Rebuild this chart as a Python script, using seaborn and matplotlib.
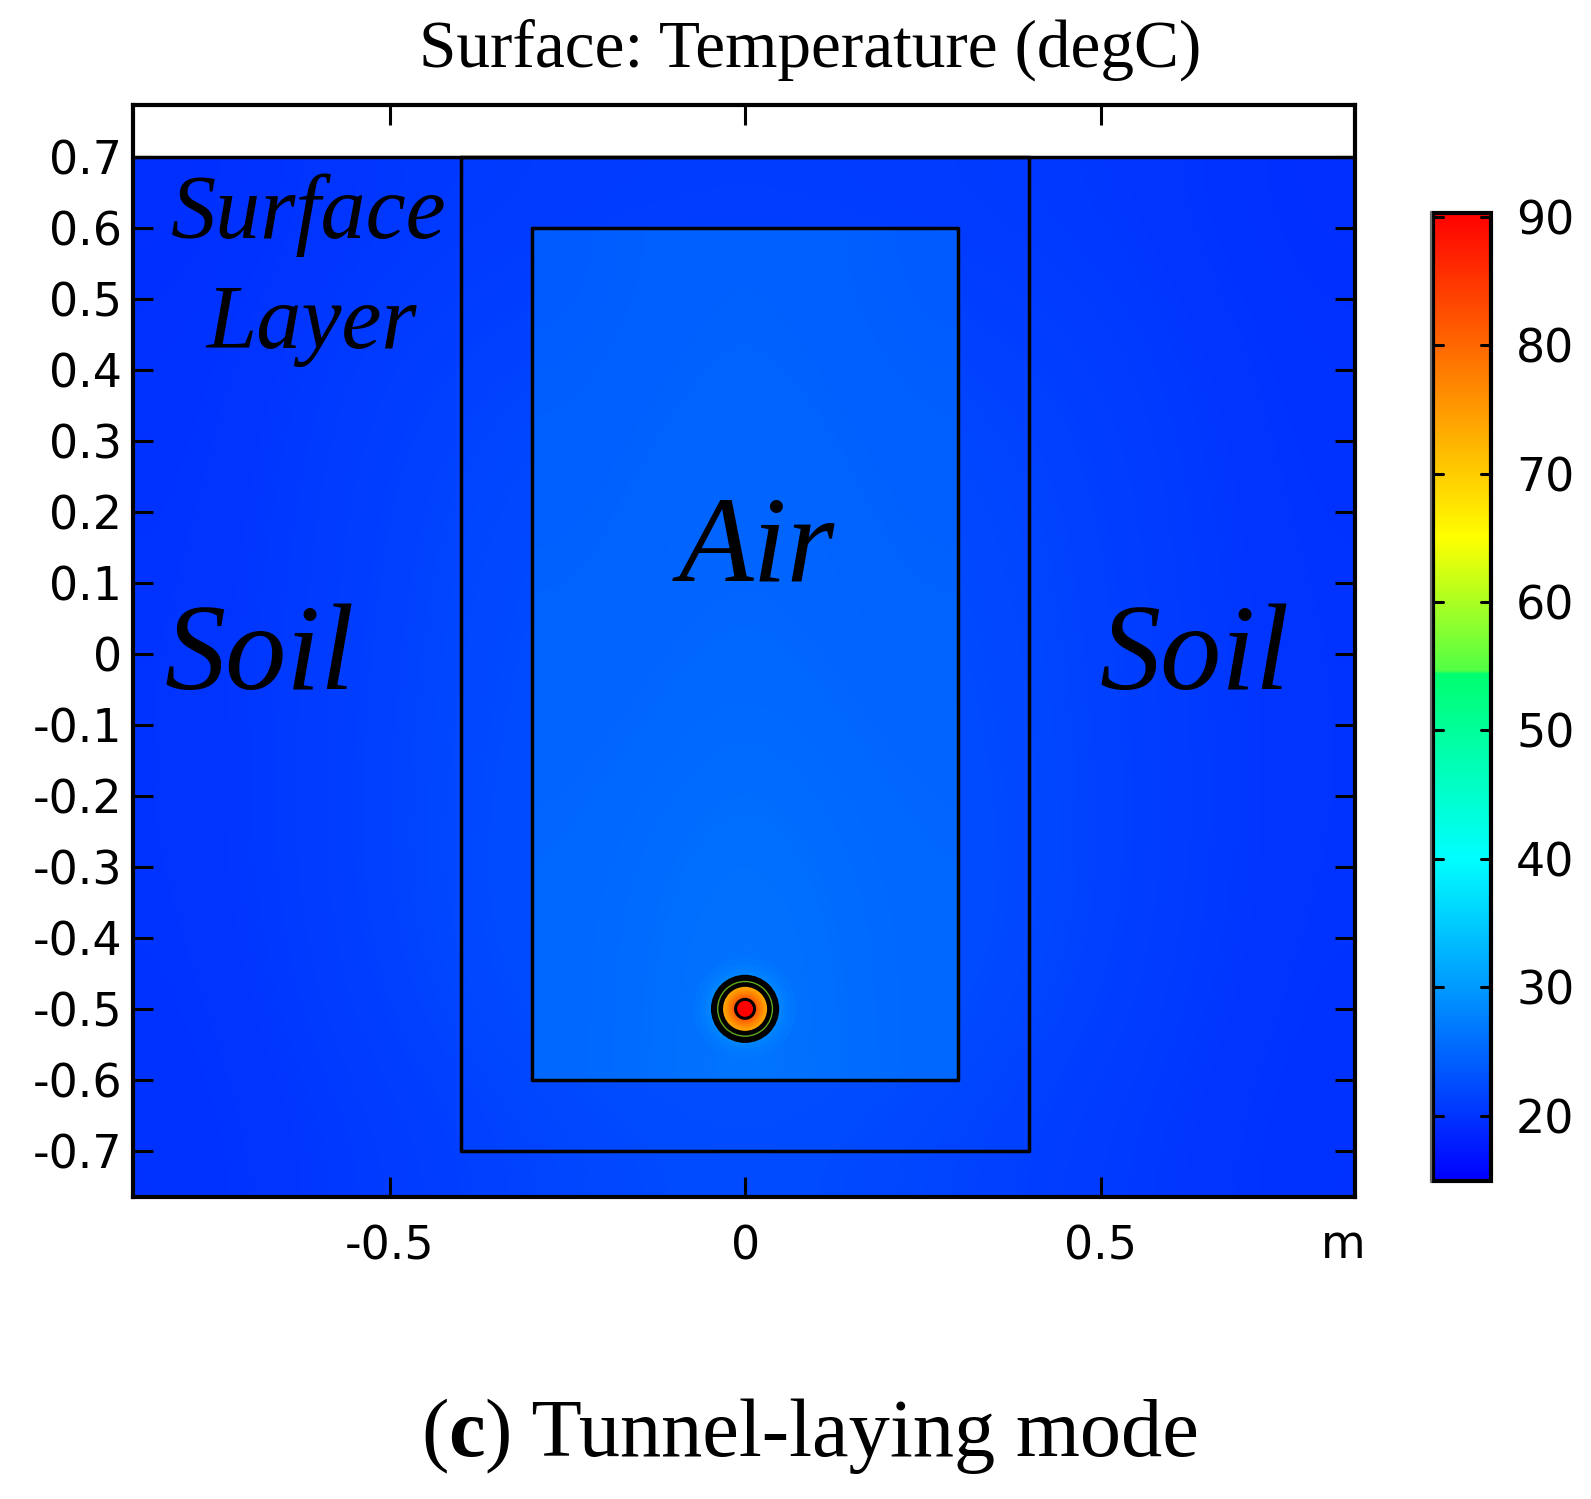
import numpy as np
import pandas as pd
import matplotlib
matplotlib.use('Agg')
import matplotlib.pyplot as plt
from matplotlib.colors import LinearSegmentedColormap, Normalize
from matplotlib.lines import Line2D
from matplotlib.patches import Circle
import seaborn as sns

# soil and surface layer temperature (degC), rows top to bottom
field_x = [-0.86, -0.645, -0.43, -0.215, 0.0, 0.215, 0.43, 0.645, 0.86]
field_y = [0.7, 0.49, 0.28, 0.07, -0.14, -0.35, -0.56, -0.77]
field_temp = [
    [19.6, 20.2, 20.6, 20.8, 20.9, 20.8, 20.6, 20.2, 19.6],
    [19.8, 20.6, 21.3, 21.8, 22.0, 21.8, 21.3, 20.6, 19.8],
    [19.9, 20.8, 21.8, 22.3, 22.4, 22.3, 21.8, 20.8, 19.9],
    [20.0, 20.9, 22.0, 22.5, 22.6, 22.5, 22.0, 20.9, 20.0],
    [20.0, 21.0, 22.1, 22.7, 22.8, 22.7, 22.1, 21.0, 20.0],
    [20.0, 21.0, 22.2, 22.9, 23.0, 22.9, 22.2, 21.0, 20.0],
    [19.9, 20.8, 22.0, 22.9, 23.2, 22.9, 22.0, 20.8, 19.9],
    [19.8, 20.4, 21.2, 22.0, 22.4, 22.0, 21.2, 20.4, 19.8],
]

# air inside the tunnel (degC), rows top to bottom, columns left to right
air_temp = [
    [24.0, 24.3, 24.5, 24.3, 24.0],
    [24.3, 24.6, 24.8, 24.6, 24.3],
    [24.5, 24.8, 25.0, 24.8, 24.5],
    [24.8, 25.1, 25.4, 25.1, 24.8],
    [25.1, 25.6, 26.2, 25.6, 25.1],
    [25.1, 25.8, 26.6, 25.8, 25.1],
]

# colour scale stops (degC, colour)
scale_temp = [14.9, 40.0, 54.4, 54.6, 65.0, 90.3]
scale_color = ['#0000ff', '#00ffff', '#00ff6e', '#50ff46', '#ffff00', '#ff0000']

# domain outlines (half width, bottom, top)
outer_box = [0.4, -0.7, 0.7]
inner_box = [0.3, -0.6, 0.6]

# cable, outer to inner
cable_center = (0.0, -0.5)
halo_radius = [0.072, 0.063, 0.056, 0.051]
halo_temp = [26.6, 27.0, 27.5, 28.2]
ring_radius = [0.031, 0.028, 0.025, 0.022, 0.019, 0.0165]
ring_temp = [74.0, 75.5, 77.0, 78.5, 80.0, 81.0]

x_ticks = [-0.5, 0, 0.5]
x_labels = ['-0.5', '0', '0.5']
y_ticks = [0.7, 0.6, 0.5, 0.4, 0.3, 0.2, 0.1, 0, -0.1, -0.2, -0.3, -0.4, -0.5, -0.6, -0.7]
y_labels = ['0.7', '0.6', '0.5', '0.4', '0.3', '0.2', '0.1', '0', '-0.1', '-0.2', '-0.3', '-0.4', '-0.5', '-0.6', '-0.7']
bar_ticks = [20, 30, 40, 50, 60, 70, 80, 90]

W, H = 1591, 1499
sns.set_theme(style='white')
plt.rcParams['font.family'] = ['DejaVu Sans']
serif = 'Liberation Serif'

vmin, vmax = scale_temp[0], scale_temp[-1]
stops = [(t - vmin) / (vmax - vmin) for t in scale_temp]
cmap = LinearSegmentedColormap.from_list('comsol', list(zip(stops, scale_color)), N=1024)
norm = Normalize(vmin, vmax)


def box(left, top, right, bottom):
    # pixel box to figure fractions
    return [left / W, 1 - bottom / H, (right - left) / W, (bottom - top) / H]


fig = plt.figure(figsize=(W / 100, H / 100), dpi=100)
ax_heat = fig.add_axes(box(133, 157, 1355, 1197))
ax = fig.add_axes(box(133, 105, 1355, 1197))
cax = fig.add_axes(box(1433, 213, 1491, 1181))

table = pd.DataFrame(field_temp, index=field_y, columns=field_x)
sns.heatmap(table, ax=ax_heat, cmap=cmap, vmin=vmin, vmax=vmax, cbar_ax=cax,
            xticklabels=False, yticklabels=False)
# smooth the table between its cells, has to sit above the heatmap cells
ax_heat.imshow(table.values, cmap=cmap, norm=norm, interpolation='bicubic', aspect='auto',
               extent=(0, table.shape[1], table.shape[0], 0), zorder=3)
ax_heat.axis('off')

ax.set_facecolor('none')
half, low, high = inner_box
ax.imshow(air_temp, cmap=cmap, norm=norm, interpolation='bicubic', aspect='auto',
          extent=(-half, half, low, high), zorder=1)
ax.set_xlim(-0.861, 0.858)
ax.set_ylim(-0.765, 0.773)

# geometry lines
for half, low, high in [outer_box, inner_box]:
    frame = pd.DataFrame({'x': [-half, half, half, -half, -half], 'y': [high, high, low, low, high]})
    sns.lineplot(data=frame, x='x', y='y', ax=ax, color='black', lw=2.5, sort=False, estimator=None)
top_line = pd.DataFrame({'x': [-0.861, 0.858], 'y': [0.7, 0.7]})
sns.lineplot(data=top_line, x='x', y='y', ax=ax, color='black', lw=2.5, sort=False, estimator=None)

# cable rings
for r, t in zip(halo_radius, halo_temp):
    ax.add_patch(Circle(cable_center, r, fc=cmap(norm(t)), ec='none', zorder=1.5))
ax.add_patch(Circle(cable_center, 0.048, fc='black', ec='none', zorder=4))
ax.add_patch(Circle(cable_center, 0.0385, fc='none', ec='#5fa81c', lw=1.0, zorder=5))
for r, t in zip(ring_radius, ring_temp):
    ax.add_patch(Circle(cable_center, r, fc=cmap(norm(t)), ec='none', zorder=6))
ax.add_patch(Circle(cable_center, 0.0155, fc='black', ec='none', zorder=7))
ax.add_patch(Circle(cable_center, 0.0112, fc='#ff0000', ec='none', zorder=8))

ax.set_xlabel('')
ax.set_ylabel('')
ax.set_xticks(x_ticks, x_labels)
ax.set_yticks(y_ticks, y_labels)
ax.tick_params(axis='both', which='major', direction='in', length=14.5, width=2.2, labelsize=33,
               top=True, right=True, bottom=True, left=True, color='black', labelcolor='black')
ax.tick_params(axis='x', pad=20)
ax.tick_params(axis='y', pad=8)
for spine in ax.spines.values():
    spine.set_linewidth(3.0)
    spine.set_color('black')

# colour bar
cbar = ax_heat.collections[0].colorbar
cbar.set_ticks(bar_ticks)
cax.tick_params(axis='y', which='major', direction='in', length=0, labelsize=33, pad=18, right=True, colors='black')
for t in bar_ticks:
    cax.plot([0, 0.17], [t, t], transform=cax.get_yaxis_transform(), color='black', lw=2.2)
    cax.plot([0.83, 1], [t, t], transform=cax.get_yaxis_transform(), color='black', lw=2.2)
cbar.outline.set_visible(True)
cbar.outline.set_edgecolor('black')
cbar.outline.set_linewidth(3.0)
fig.add_artist(Line2D([1431 / W, 1431 / W], [1 - 212 / H, 1 - 1182 / H], color='#707070', lw=1.6))

# region names
label_style = dict(family=serif, style='italic', color='black', ha='left', va='baseline')
ax.text(-0.808, 0.586, 'Surface', fontsize=65, **label_style)
ax.text(-0.758, 0.431, 'Layer', fontsize=65, **label_style)
ax.text(-0.094, 0.103, 'Air', fontsize=88, **label_style)
ax.text(-0.817, -0.05, 'Soil', fontsize=88, **label_style)
ax.text(0.499, -0.05, 'Soil', fontsize=88, **label_style)

fig.text(1343 / W, 1 - 1245 / H, 'm', fontsize=33, ha='center', va='center', color='black')
fig.text(810 / W, 1 - 67 / H, 'Surface: Temperature (degC)', family=serif, fontsize=48.4,
         ha='center', va='baseline', color='black')

# caption, the letter alone is bold
cap_a = fig.text(421 / W, 1 - 1456 / H, '(', family=serif, fontsize=59.3, va='baseline', color='black')
cap_b = ax.annotate('c', xy=(1, 0), xycoords=cap_a, family=serif, fontsize=59.3, weight='bold',
                    va='bottom', ha='left', color='black')
ax.annotate(') Tunnel-laying mode', xy=(1, 0), xycoords=cap_b, family=serif, fontsize=59.3,
            va='bottom', ha='left', color='black')

fig.savefig('out.png', dpi=100)
